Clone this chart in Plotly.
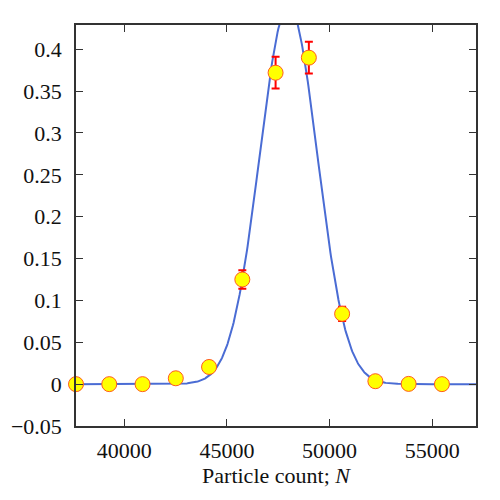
import numpy as np
import plotly.graph_objects as go

# Data
particle_count = [37650, 39270, 40890, 42510, 44130, 45750, 47370, 48990, 50610, 52230, 53850, 55470]
probability = [0.0, 0.0, 0.0, 0.007, 0.0205, 0.125, 0.372, 0.390, 0.084, 0.0035, 0.0003, 0.0]
prob_error = [0.0003, 0.0003, 0.0003, 0.001, 0.002, 0.011, 0.019, 0.019, 0.0085, 0.001, 0.0003, 0.0003]

# Fitted Gaussian model parameters
fit_amplitude = 0.452
fit_mean = 48000
fit_sigma = 1403

x_fit = np.linspace(37650, 57130, 600)
y_fit = fit_amplitude * np.exp(-(x_fit - fit_mean) ** 2 / (2 * fit_sigma ** 2))

FONT = "Liberation Serif"

fig = go.Figure()
fig.add_trace(go.Scatter(
    x=x_fit, y=y_fit, mode="lines",
    line=dict(color="#4a6cd4", width=2),
    hoverinfo="skip", showlegend=False, cliponaxis=True,
))
fig.add_trace(go.Scatter(
    x=particle_count, y=probability, mode="markers",
    marker=dict(size=15, color="#ffff00", line=dict(color="#ff5a1f", width=1)),
    error_y=dict(type="data", array=prob_error, visible=True, color="#ff0000",
                 thickness=2, width=4),
    showlegend=False, cliponaxis=False,
))

axis_common = dict(
    showline=True, linecolor="#333333", linewidth=1.5, mirror="ticks",
    ticks="inside", ticklen=7, tickwidth=1.2, tickcolor="#333333",
    showgrid=False, zeroline=False,
    tickfont=dict(family=FONT, size=22, color="#111111"),
)

fig.update_layout(
    width=500, height=500,
    margin=dict(l=76, r=24, t=25, b=74),
    paper_bgcolor="white", plot_bgcolor="white",
    font=dict(family=FONT),
    xaxis=dict(range=[37650, 57130], tickvals=[40000, 45000, 50000, 55000],
               tickformat="d", ticklabelstandoff=4,
               title=dict(text="Particle count; <i>N</i>",
                          font=dict(family=FONT, size=22, color="#111111"),
                          standoff=4),
               **axis_common),
    yaxis=dict(range=[-0.05, 0.429], dtick=0.05, tick0=0,
               ticklabelstandoff=8,
               **axis_common),
)

fig.write_html("out.html")
